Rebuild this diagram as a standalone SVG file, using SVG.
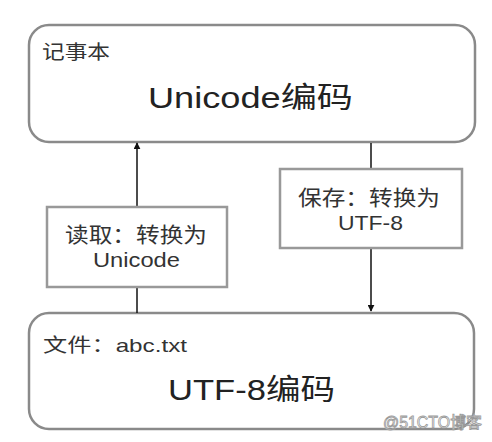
<svg xmlns="http://www.w3.org/2000/svg" width="492" height="442" viewBox="0 0 492 442">
<defs>
<marker id="ah" viewBox="0 0 10 10" refX="9" refY="5" markerWidth="7" markerHeight="7" markerUnits="userSpaceOnUse" orient="auto"><path d="M0,0 L10,5 L0,10 z" fill="#111"/></marker>
<style>
.big{fill:#fff;stroke:#8a8a8a;stroke-width:2.5}
.lbl{fill:#fff;stroke:#999;stroke-width:2.5}
text{font-family:"Liberation Sans","Noto Sans CJK SC",sans-serif;fill:#333}
.t16{font-size:19px}
.t28{font-size:29px;fill:#222}
.t18{font-size:21px}
.conn{stroke:#111;stroke-width:1.5;fill:none}
</style>
</defs>
<rect width="492" height="442" fill="#fff"/>
<g id="notepad">
<rect class="big" x="29" y="25" width="446" height="117" rx="20"/>
<text class="t16" x="42" y="59" textLength="68" lengthAdjust="spacingAndGlyphs">记事本</text>
<text class="t28" x="148" y="108" textLength="205" lengthAdjust="spacingAndGlyphs">Unicode编码</text>
</g>
<g id="file">
<rect class="big" x="29" y="313" width="445" height="116" rx="20"/>
<text class="t16" x="43" y="352" textLength="144" lengthAdjust="spacingAndGlyphs">文件：abc.txt</text>
<text class="t28" x="168" y="400" textLength="167" lengthAdjust="spacingAndGlyphs">UTF-8编码</text>
</g>
<g id="connectors">
<line class="conn" x1="137" y1="313" x2="137" y2="287"/>
<line class="conn" x1="137" y1="207" x2="137" y2="143" marker-end="url(#ah)"/>
<line class="conn" x1="371" y1="143" x2="371" y2="169"/>
<line class="conn" x1="371" y1="248" x2="371" y2="311" marker-end="url(#ah)"/>
</g>
<g id="read">
<rect class="lbl" x="47" y="207" width="180" height="80"/>
<text class="t18" x="65" y="242" textLength="142" lengthAdjust="spacingAndGlyphs">读取：转换为</text>
<text class="t18" x="93" y="267" textLength="87" lengthAdjust="spacingAndGlyphs">Unicode</text>
</g>
<g id="save">
<rect class="lbl" x="280" y="169" width="182" height="79"/>
<text class="t18" x="298" y="205" textLength="142" lengthAdjust="spacingAndGlyphs">保存：转换为</text>
<text class="t18" x="338" y="230" textLength="65" lengthAdjust="spacingAndGlyphs">UTF-8</text>
</g>
<text x="383" y="428" textLength="99" lengthAdjust="spacingAndGlyphs" style="font-size:16px;fill:#fff;stroke:#999;stroke-width:0.8">@51CTO博客</text>
</svg>
